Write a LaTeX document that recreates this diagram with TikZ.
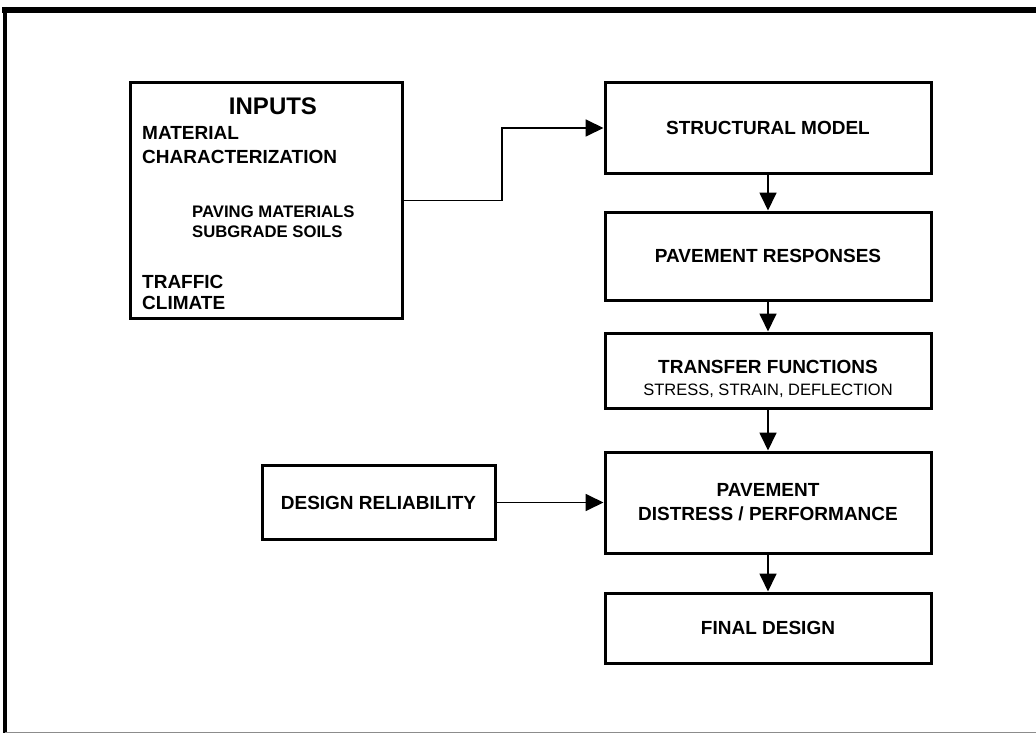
\documentclass[tikz,border=0pt]{standalone}
\usepackage{fontspec}
\setmainfont{Liberation Sans}
\usetikzlibrary{arrows.meta}
\begin{document}
\begin{tikzpicture}[x=1pt,y=-1pt,
  box/.style={draw=black, line width=3pt, inner sep=0pt, align=center,
    font=\bfseries\fontsize{19}{24}\selectfont},
  conn/.style={line width=1.8pt, -{Triangle[length=18pt,width=17pt]}},
  lbl/.style={anchor=west, inner sep=0pt, font=\bfseries\fontsize{19}{23}\selectfont},
  sublbl/.style={anchor=west, inner sep=0pt, font=\bfseries\fontsize{16.7}{20}\selectfont},
]
\useasboundingbox (0,0) rectangle (1036,733);
% outer frame
\draw[line width=6pt] (2,10) -- (1036,10);
\draw[line width=4pt] (5,7) -- (5,733);
\draw[line width=1pt, black!45] (5,732) -- (1036,732);

% inputs box
\node[box, minimum width=272pt, minimum height=235pt] (inputs) at (266,200.5) {};
\node[inner sep=0pt, font=\bfseries\fontsize{24}{28}\selectfont] (tinputs) at (273,106) {INPUTS};
\node[lbl] (tmat1) at (142,133) {MATERIAL};
\node[lbl] (tmat2) at (142,157) {CHARACTERIZATION};
\node[sublbl] (tpav) at (192,212) {PAVING MATERIALS};
\node[sublbl] (tsub) at (192,232) {SUBGRADE SOILS};
\node[lbl] (ttraf) at (142,282) {TRAFFIC};
\node[lbl] (tclim) at (142,303) {CLIMATE};

% main column
\node[box, minimum width=326pt, minimum height=90pt] (structural) at (768,128) {STRUCTURAL MODEL};
\node[box, minimum width=326pt, minimum height=88pt] (responses) at (768,256) {PAVEMENT RESPONSES};
\node[box, minimum width=326pt, minimum height=75pt] (transfer) at (768,370.5) {};
\node[inner sep=0pt, align=center, font=\fontsize{19}{22}\selectfont] (ttransfer) at (768,379)
  {{\bfseries TRANSFER FUNCTIONS}\\
   {\fontsize{16.5}{20}\selectfont STRESS, STRAIN, DEFLECTION}};
\node[box, minimum width=326pt, minimum height=101pt] (distress) at (768,502.5) {PAVEMENT\\DISTRESS / PERFORMANCE};
\node[box, minimum width=326pt, minimum height=70pt] (final) at (768,628) {FINAL DESIGN};
\node[box, minimum width=233pt, minimum height=74pt] (reliability) at (378.5,502.5) {DESIGN RELIABILITY};

% connectors
\coordinate (bend) at (502,200.5);
\draw[conn] (inputs.east) -- (bend) |- (structural.west);
\draw[conn] (structural) -- (responses);
\draw[conn] (responses) -- (transfer);
\draw[conn] (transfer) -- (distress);
\draw[conn] (distress) -- (final);
\draw[conn] (reliability.east) -- (reliability.east -| distress.west);
\end{tikzpicture}
\end{document}
